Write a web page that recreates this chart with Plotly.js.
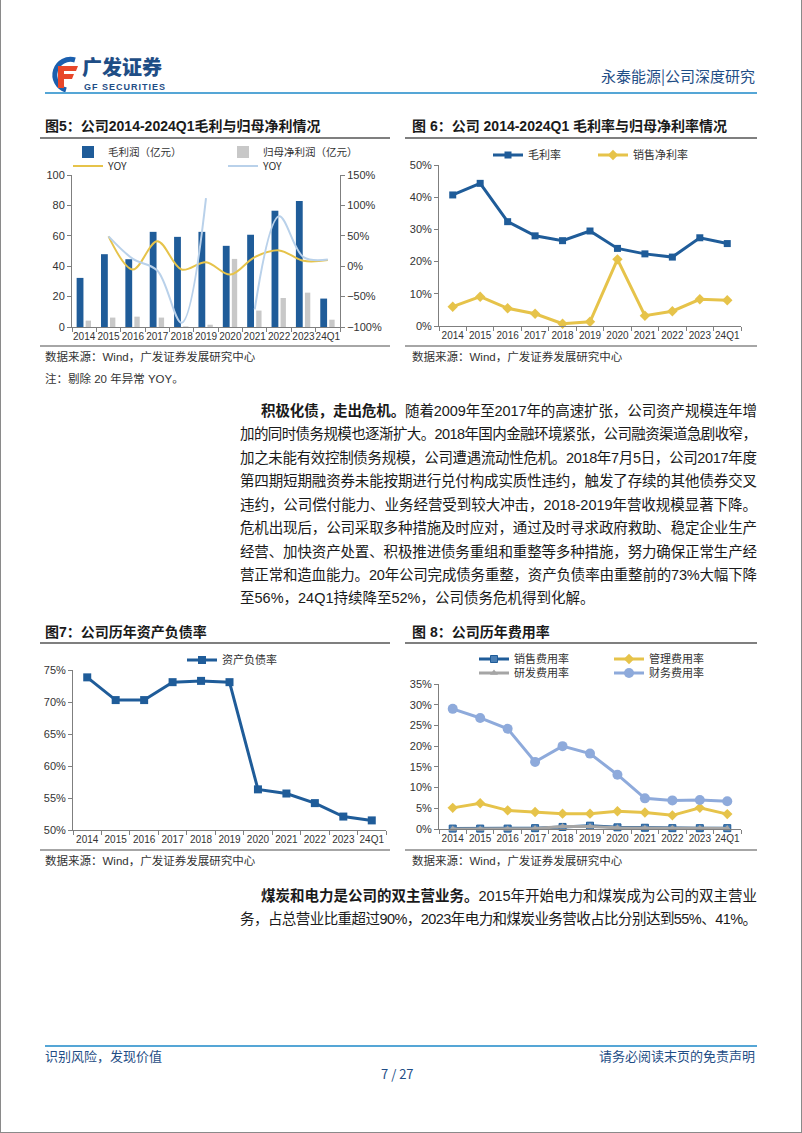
<!DOCTYPE html>
<html><head><meta charset="utf-8">
<script src="https://cdn.plot.ly/plotly-3.0.1.min.js"></script>
<style>
html,body{margin:0;padding:0;}
body{width:802px;height:1133px;position:relative;background:#fff;overflow:hidden;font-family:"Liberation Sans","Noto Sans CJK SC",sans-serif;}
.abs{position:absolute;white-space:nowrap;}
.frame{position:absolute;left:0;top:-1px;width:800px;height:1132px;border:1px solid #8a8a8a;}
.hline{position:absolute;}
.ttl{position:absolute;white-space:nowrap;font-size:14px;font-weight:bold;color:#1a1a1a;line-height:20px;font-family:"Liberation Sans","Noto Sans CJK SC",sans-serif;}
.src{position:absolute;white-space:nowrap;font-size:11.5px;color:#333;line-height:16px;font-family:"Liberation Sans","Noto Sans CJK SC",sans-serif;}
.body{position:absolute;white-space:nowrap;font-size:14.5px;color:#1a1a1a;line-height:22px;font-family:"Liberation Sans","Noto Sans CJK SC",sans-serif;}
.body b{font-weight:bold;}
.chart{position:absolute;}
.hdr{position:absolute;white-space:nowrap;color:#1f4e86;font-family:"Noto Sans CJK SC",sans-serif;}
</style>
</head>
<body>
<div class="frame"></div>

<!-- header -->
<svg class="abs" style="left:45px;top:55px" width="38" height="38" viewBox="0 0 38 38">
  <path d="M30 5 A15 15 0 1 0 21 35" fill="none" stroke="#1b5fae" stroke-width="5"/>
  <path d="M13 11 H33 L31 16 H19 V19 H29 L27 24 H19 V33 H13 Z" fill="#e8472a"/>
</svg>
<div class="hdr" style="left:82px;top:56px;font-size:20px;font-weight:900;line-height:22px;">广发证券</div>
<div class="hdr" style="left:84px;top:82px;font-size:9px;font-weight:bold;line-height:10px;letter-spacing:1px;font-family:'Liberation Sans',sans-serif;">GF SECURITIES</div>
<div class="hdr" style="right:47px;top:66px;font-size:15px;line-height:20px;">永泰能源|公司深度研究</div>
<div class="hline" style="left:45px;top:92px;width:712px;height:2px;background:#55a6d6;"></div>

<!-- chart titles top -->
<div class="ttl" style="left:45px;top:116px;">图5：公司2014-2024Q1毛利与归母净利情况</div>
<div class="ttl" style="left:412px;top:116px;">图 6：公司 2014-2024Q1 毛利率与归母净利率情况</div>
<div class="hline" style="left:40px;top:137px;width:350px;height:2px;background:#7f7f7f;"></div>
<div class="hline" style="left:405px;top:137px;width:352px;height:2px;background:#7f7f7f;"></div>
<div class="hline" style="left:40px;top:345px;width:350px;height:2px;background:#a6a6a6;"></div>
<div class="hline" style="left:405px;top:345px;width:352px;height:2px;background:#a6a6a6;"></div>

<div id="c5" class="chart"></div>
<div id="c6" class="chart"></div>

<div class="src" style="left:45px;top:349px;">数据来源：Wind，广发证券发展研究中心</div>
<div class="src" style="left:412px;top:349px;">数据来源：Wind，广发证券发展研究中心</div>
<div class="src" style="left:45px;top:371px;">注：剔除 20 年异常 YOY。</div>

<!-- paragraph 1 -->
<div class="body fit" data-w="496" style="left:261px;top:400px;"><b>积极化债，走出危机。</b>随着2009年至2017年的高速扩张，公司资产规模连年增</div>
<div class="body fit" data-w="517" style="left:240px;top:423px;">加的同时债务规模也逐渐扩大。2018年国内金融环境紧张，公司融资渠道急剧收窄，</div>
<div class="body fit" data-w="517" style="left:240px;top:447px;">加之未能有效控制债务规模，公司遭遇流动性危机。2018年7月5日，公司2017年度</div>
<div class="body fit" data-w="517" style="left:240px;top:470px;">第四期短期融资券未能按期进行兑付构成实质性违约，触发了存续的其他债券交叉</div>
<div class="body fit" data-w="517" style="left:240px;top:494px;">违约，公司偿付能力、业务经营受到较大冲击，2018-2019年营收规模显著下降。</div>
<div class="body fit" data-w="517" style="left:240px;top:517px;">危机出现后，公司采取多种措施及时应对，通过及时寻求政府救助、稳定企业生产</div>
<div class="body fit" data-w="517" style="left:240px;top:541px;">经营、加快资产处置、积极推进债务重组和重整等多种措施，努力确保正常生产经</div>
<div class="body fit" data-w="517" style="left:240px;top:564px;">营正常和造血能力。20年公司完成债务重整，资产负债率由重整前的73%大幅下降</div>
<div class="body" style="left:240px;top:587px;">至56%，24Q1持续降至52%，公司债务危机得到化解。</div>

<!-- chart titles bottom -->
<div class="ttl" style="left:45px;top:622px;">图7：公司历年资产负债率</div>
<div class="ttl" style="left:412px;top:622px;">图 8：公司历年费用率</div>
<div class="hline" style="left:40px;top:642px;width:350px;height:2px;background:#7f7f7f;"></div>
<div class="hline" style="left:405px;top:642px;width:352px;height:2px;background:#7f7f7f;"></div>
<div class="hline" style="left:40px;top:849px;width:350px;height:2px;background:#a6a6a6;"></div>
<div class="hline" style="left:405px;top:849px;width:352px;height:2px;background:#a6a6a6;"></div>

<div id="c7" class="chart"></div>
<div id="c8" class="chart"></div>

<div class="src" style="left:45px;top:853px;">数据来源：Wind，广发证券发展研究中心</div>
<div class="src" style="left:412px;top:853px;">数据来源：Wind，广发证券发展研究中心</div>

<!-- paragraph 2 -->
<div class="body fit" data-w="496" style="left:261px;top:885px;"><b>煤炭和电力是公司的双主营业务。</b>2015年开始电力和煤炭成为公司的双主营业</div>
<div class="body fit" data-w="517" style="left:240px;top:908px;">务，占总营业比重超过90%，2023年电力和煤炭业务营收占比分别达到55%、41%。</div>

<!-- footer -->
<div class="hline" style="left:45px;top:1045px;width:712px;height:2px;background:#55a6d6;"></div>
<div class="hdr" style="left:45px;top:1047px;font-size:13px;line-height:18px;">识别风险，发现价值</div>
<div class="hdr" style="right:47px;top:1047px;font-size:13px;line-height:18px;">请务必阅读末页的免责声明</div>
<div class="hdr" style="left:381px;top:1065px;font-size:13px;line-height:18px;">7 / 27</div>

<script>
// ---------------- data ----------------
const categories = ['2014','2015','2016','2017','2018','2019','2020','2021','2022','2023','24Q1'];
// 图5
const grossProfit = [32.3, 47.9, 44.6, 62.6, 59.3, 62.6, 53.4, 60.7, 76.5, 82.9, 18.7];   // 毛利润（亿元）
const netProfit   = [4.2, 6.2, 6.8, 6.2, 0.4, 1.5, 44.8, 10.8, 19.1, 22.6, 4.8];         // 归母净利润（亿元）
const grossYoy    = [null, 49, -5.5, 41, -5.5, 6.6, -13.7, 15, 26, 8.8, 10];             // YOY (%)
const netYoy      = [null, 49, 12, -7, -93, 112, null, -71, 82, 15, 11];                 // YOY (%)
// 图6
const grossMargin = [40.7, 44.3, 32.4, 28.0, 26.5, 29.5, 24.1, 22.4, 21.4, 27.4, 25.6];  // 毛利率
const netMargin   = [6.0, 9.1, 5.5, 3.8, 0.7, 1.3, 20.7, 3.2, 4.6, 8.3, 8.0];            // 销售净利率
// 图7
const debtRatio   = [73.85, 70.3, 70.3, 73.1, 73.3, 73.1, 56.35, 55.7, 54.2, 52.1, 51.5]; // 资产负债率
// 图8
const sellRate = [0.1, 0.1, 0.1, 0.2, 0.5, 0.8, 0.4, 0.3, 0.2, 0.2, 0.2];   // 销售费用率
const mgmtRate = [5.1, 6.2, 4.5, 4.1, 3.7, 3.7, 4.3, 4.0, 3.3, 5.1, 3.6];   // 管理费用率
const rdRate   = [0, 0, 0, 0.1, 0.6, 0.6, 0.3, 0.2, 0.2, 0.2, 0.1];         // 研发费用率
const finRate  = [29.0, 26.8, 24.2, 16.2, 20.0, 18.2, 13.1, 7.4, 6.9, 7.0, 6.7]; // 财务费用率

// ---------------- text fitting (justify) ----------------
document.querySelectorAll('.fit').forEach(el => {
  const target = +el.dataset.w;
  const n = el.textContent.length;
  const w = el.getBoundingClientRect().width;
  el.style.letterSpacing = ((target - w) / (n - 1)).toFixed(3) + 'px';
});

// ---------------- chart helpers ----------------
const FONT = '"Liberation Sans", Arial, sans-serif';
const CJK = '"Noto Sans CJK SC", "Liberation Sans", sans-serif';
const AX = '#7f7f7f';
const BLUE = '#1f5c99', YEL = '#e6c34a', LBLUE = '#b9d1ea', GRAY = '#c8c8c8', PERI = '#8eaadb', MGRAY = '#a5a5a5';

function place(id, g) {
  const el = document.getElementById(id);
  el.style.left = g.left + 'px'; el.style.top = g.top + 'px';
  el.style.width = g.w + 'px'; el.style.height = g.h + 'px';
  return {l: g.x0 - g.left, r: g.left + g.w - g.x1, t: g.y0 - g.top, b: g.top + g.h - g.y1, pad: 0, autoexpand: false};
}
function leg(g, px, py, fs) {
  return {x: (px - g.x0) / (g.x1 - g.x0), y: (g.y1 - py) / (g.y1 - g.y0), xanchor: 'left', yanchor: 'middle',
    orientation: 'v', bgcolor: 'rgba(0,0,0,0)', borderwidth: 0, itemwidth: 30, tracegroupgap: 0,
    font: {family: CJK, size: fs || 11, color: '#333'}};
}
function xax() {
  return {type: 'category', range: [-0.5, categories.length - 0.5], tickson: 'boundaries', ticks: 'outside', ticklen: 4,
    tickcolor: AX, showline: true, linecolor: AX, linewidth: 1, showgrid: false, zeroline: false, tickangle: 0,
    tickfont: {family: FONT, size: 10, color: '#333'}, fixedrange: true};
}
function yax(range, dtick, suffix) {
  return {range: range, dtick: dtick, ticksuffix: suffix || '', ticks: 'outside', ticklen: 4, tickcolor: AX,
    showline: true, linecolor: AX, linewidth: 1, showgrid: false, zeroline: false,
    tickfont: {family: FONT, size: 11, color: '#333'}, fixedrange: true};
}
const cfg = {displayModeBar: false, staticPlot: true};

// ---------------- 图5 ----------------
const g5 = {left: 40, top: 140, w: 360, h: 210, x0: 72, x1: 340, y0: 175, y1: 327};
Plotly.newPlot('c5', [
  {type: 'bar', name: '毛利润（亿元）', x: categories, y: grossProfit, marker: {color: BLUE}, width: 0.28, offset: -0.31, legend: 'legend'},
  {type: 'bar', name: '归母净利润（亿元）', x: categories, y: netProfit, marker: {color: GRAY}, width: 0.22, offset: 0.06, legend: 'legend2'},
  {type: 'scatter', mode: 'lines', name: 'YOY', x: categories, y: grossYoy, yaxis: 'y2', line: {color: YEL, width: 2, shape: 'spline', smoothing: 1}, connectgaps: false, legend: 'legend3'},
  {type: 'scatter', mode: 'lines', name: 'YOY', x: categories, y: netYoy, yaxis: 'y2', line: {color: LBLUE, width: 2, shape: 'spline', smoothing: 1}, connectgaps: false, legend: 'legend4'}
], {
  width: g5.w, height: g5.h, margin: place('c5', g5), paper_bgcolor: 'rgba(0,0,0,0)', plot_bgcolor: 'rgba(0,0,0,0)',
  barmode: 'overlay', showlegend: true,
  xaxis: xax(), yaxis: yax([0, 100], 20),
  yaxis2: Object.assign(yax([-100, 150], 50, '%'), {overlaying: 'y', side: 'right'}),
  legend: leg(g5, 68, 152, 10.5), legend2: leg(g5, 223, 152, 10.5), legend3: leg(g5, 68, 166, 10.5), legend4: leg(g5, 223, 166, 10.5)
}, cfg);

// ---------------- 图6 ----------------
const g6 = {left: 405, top: 140, w: 360, h: 210, x0: 439, x1: 741, y0: 165, y1: 326};
Plotly.newPlot('c6', [
  {type: 'scatter', mode: 'lines+markers', name: '毛利率', x: categories, y: grossMargin, line: {color: BLUE, width: 3}, marker: {symbol: 'square', size: 7, color: BLUE}, cliponaxis: false, legend: 'legend'},
  {type: 'scatter', mode: 'lines+markers', name: '销售净利率', x: categories, y: netMargin, line: {color: YEL, width: 3}, marker: {symbol: 'diamond', size: 8, color: YEL}, cliponaxis: false, legend: 'legend2'}
], {
  width: g6.w, height: g6.h, margin: place('c6', g6), paper_bgcolor: 'rgba(0,0,0,0)', plot_bgcolor: 'rgba(0,0,0,0)',
  showlegend: true, xaxis: xax(), yaxis: yax([0, 50], 10, '%'),
  legend: leg(g6, 488, 155), legend2: leg(g6, 593, 155)
}, cfg);

// ---------------- 图7 ----------------
const g7 = {left: 40, top: 640, w: 360, h: 212, x0: 73, x1: 386, y0: 670, y1: 830};
Plotly.newPlot('c7', [
  {type: 'scatter', mode: 'lines+markers', name: '资产负债率', x: categories, y: debtRatio, line: {color: BLUE, width: 3}, marker: {symbol: 'square', size: 8, color: BLUE}, cliponaxis: false, showlegend: true, legend: 'legend'}
], {
  width: g7.w, height: g7.h, margin: place('c7', g7), paper_bgcolor: 'rgba(0,0,0,0)', plot_bgcolor: 'rgba(0,0,0,0)',
  showlegend: true, xaxis: xax(), yaxis: yax([50, 75], 5, '%'),
  legend: leg(g7, 182, 660)
}, cfg);

// ---------------- 图8 ----------------
const g8 = {left: 405, top: 640, w: 360, h: 212, x0: 439, x1: 741, y0: 684, y1: 829};
Plotly.newPlot('c8', [
  {type: 'scatter', mode: 'lines+markers', name: '销售费用率', x: categories, y: sellRate, line: {color: BLUE, width: 3}, marker: {symbol: 'square', size: 7, color: '#4a7fb5', line: {color: BLUE, width: 1}}, cliponaxis: false, legend: 'legend'},
  {type: 'scatter', mode: 'lines+markers', name: '管理费用率', x: categories, y: mgmtRate, line: {color: YEL, width: 3}, marker: {symbol: 'diamond', size: 8, color: YEL}, cliponaxis: false, legend: 'legend2'},
  {type: 'scatter', mode: 'lines+markers', name: '研发费用率', x: categories, y: rdRate, line: {color: MGRAY, width: 3}, marker: {symbol: 'triangle-up', size: 7, color: MGRAY}, cliponaxis: false, legend: 'legend3'},
  {type: 'scatter', mode: 'lines+markers', name: '财务费用率', x: categories, y: finRate, line: {color: PERI, width: 3}, marker: {symbol: 'circle', size: 10, color: PERI}, cliponaxis: false, legend: 'legend4'}
], {
  width: g8.w, height: g8.h, margin: place('c8', g8), paper_bgcolor: 'rgba(0,0,0,0)', plot_bgcolor: 'rgba(0,0,0,0)',
  showlegend: true, xaxis: xax(), yaxis: yax([0, 35], 5, '%'),
  legend: leg(g8, 474, 659), legend2: leg(g8, 609, 659), legend3: leg(g8, 474, 673), legend4: leg(g8, 609, 673)
}, cfg);
</script>
</body></html>
